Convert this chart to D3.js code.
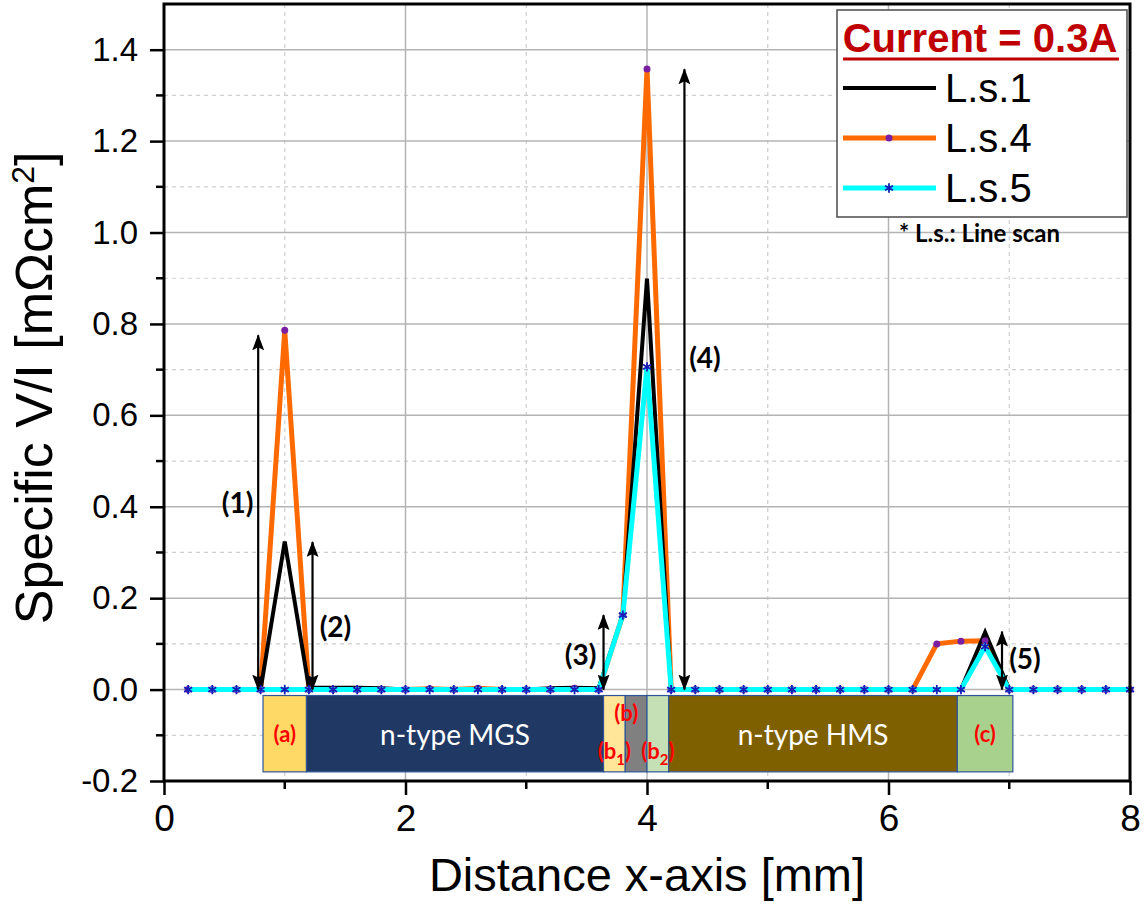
<!DOCTYPE html>
<html>
<head>
<meta charset="utf-8">
<script src="https://cdn.jsdelivr.net/npm/d3@7"></script>
<style>
  body { margin: 0; background: #fff; }
  svg { display: block; }
</style>
</head>
<body>
<div id="chart"></div>
<script>
// distance along the x-axis [mm]
var distancia = [0.2, 0.4, 0.6, 0.8, 1.0, 1.2, 1.4, 1.6, 1.8, 2.0,
                 2.2, 2.4, 2.6, 2.8, 3.0, 3.2, 3.4, 3.6, 3.8, 4.0,
                 4.2, 4.4, 4.6, 4.8, 5.0, 5.2, 5.4, 5.6, 5.8, 6.0,
                 6.2, 6.4, 6.6, 6.8, 7.0, 7.2, 7.4, 7.6, 7.8, 8.0];

// specific V/I [mOhm cm2], current = 0.3A
var ls1 = [0, 0, 0, 0, 0.324, 0.004, 0.004, 0.004, 0.003, 0,
           0, 0, 0, 0, 0, 0.003, 0.004, 0.003, 0.163, 0.899,
           0, 0, 0, 0, 0, 0, 0, 0, 0, 0,
           0, 0, 0, 0.125, 0, 0, 0, 0, 0, 0];
var ls4 = [0, 0, 0, 0, 0.786, 0, 0, 0, 0, 0,
           0.002, 0, 0.003, 0, 0, 0, 0.003, 0, 0.163, 1.358,
           0, 0, 0, 0, 0, 0, 0, 0, 0, 0,
           0, 0.100, 0.106, 0.107, 0, 0, 0, 0, 0, 0];
var ls5 = [0, 0, 0, 0, 0, 0, 0, 0, 0, 0,
           0, 0, 0, 0, 0, 0, 0, 0, 0.163, 0.706,
           0, 0, 0, 0, 0, 0, 0, 0, 0, 0,
           0, 0, 0, 0.094, 0, 0, 0, 0, 0, 0];

var ticks_x = [0, 2, 4, 6, 8];
var ticks_y = [-0.2, 0.0, 0.2, 0.4, 0.6, 0.8, 1.0, 1.2, 1.4];

// zones under the curves [mm]
var zona_ini = [0.82, 1.18, 3.64, 3.82, 4.0, 4.18, 6.57];
var zona_fin = [1.18, 3.64, 3.82, 4.0, 4.18, 6.57, 7.03];
var zona_nombre = ["(a)", "n-type MGS", "(b1)", "(b)", "(b2)", "n-type HMS", "(c)"];

// arrows (1)..(5): x [mm], top value
var flecha_x = [0.78, 1.23, 3.64, 4.31, 6.94];
var flecha_top = [0.775, 0.323, 0.163, 1.357, 0.127];
var flecha_txt = ["(1)", "(2)", "(3)", "(4)", "(5)"];
var flecha_lx = [0.61, 1.42, 3.45, 4.48, 7.13];
var flecha_ly = [0.41, 0.14, 0.077, 0.728, 0.07];

var series = [
  { nombre: "L.s.4", valores: ls4 },
  { nombre: "L.s.1", valores: ls1 },
  { nombre: "L.s.5", valores: ls5 }
];
var leyenda = ["L.s.1", "L.s.4", "L.s.5"];

var colores = { "L.s.1": "#000000", "L.s.4": "#FF6A00", "L.s.5": "#00FFFF" };
var colores_zona = ["#FFD966", "#203864", "#FFE699", "#808080", "#C5E0B4", "#7F6000", "#A9D18E"];

var W = 1145, H = 909;
var margin = { top: 4, right: 15, bottom: 128, left: 164 };
var width = W - margin.left - margin.right;
var height = H - margin.top - margin.bottom;

var svg = d3.select("#chart").append("svg")
  .attr("width", W)
  .attr("height", H);

// punta de flecha
var defs = svg.append("defs");
defs.append("marker")
  .attr("id", "punta")
  .attr("viewBox", "0 0 16 12")
  .attr("refX", 15).attr("refY", 6)
  .attr("markerWidth", 16).attr("markerHeight", 12)
  .attr("markerUnits", "userSpaceOnUse")
  .attr("orient", "auto-start-reverse")
  .append("path")
  .attr("d", "M0,0 L16,6 L0,12 L3,6 z")
  .attr("fill", "#000");

var g = svg.append("g")
  .attr("transform", "translate(" + margin.left + "," + margin.top + ")");

var x = d3.scaleLinear().domain([0, 8]).range([0, width]);
var y = d3.scaleLinear().domain([-0.2, 1.5]).range([height, 0]);

// rejilla
var menores_y = d3.range(-1, 15, 2).map(d => d / 10);
g.selectAll(".grid-min-y").data(menores_y).enter().append("line")
  .attr("x1", 0).attr("x2", width)
  .attr("y1", d => y(d)).attr("y2", d => y(d))
  .attr("stroke", "#cfcfcf").attr("stroke-width", 1.2)
  .attr("stroke-dasharray", "4,4");
g.selectAll(".grid-min-x").data([1, 3, 5, 7]).enter().append("line")
  .attr("x1", d => x(d)).attr("x2", d => x(d))
  .attr("y1", 0).attr("y2", height)
  .attr("stroke", "#cfcfcf").attr("stroke-width", 1.2)
  .attr("stroke-dasharray", "4,4");
g.selectAll(".grid-y").data(ticks_y.slice(1)).enter().append("line")
  .attr("x1", 0).attr("x2", width)
  .attr("y1", d => y(d)).attr("y2", d => y(d))
  .attr("stroke", "#b4b4b4").attr("stroke-width", 1.5);
g.selectAll(".grid-x").data([2, 4, 6]).enter().append("line")
  .attr("x1", d => x(d)).attr("x2", d => x(d))
  .attr("y1", 0).attr("y2", height)
  .attr("stroke", "#b4b4b4").attr("stroke-width", 1.5);

// zonas
var zonas = g.append("g").attr("class", "zonas");
zonas.selectAll("rect").data(zona_nombre).enter().append("rect")
  .attr("x", (d, i) => x(zona_ini[i]))
  .attr("y", y(-0.013))
  .attr("width", (d, i) => x(zona_fin[i]) - x(zona_ini[i]))
  .attr("height", y(-0.18) - y(-0.013))
  .attr("fill", (d, i) => colores_zona[i])
  .attr("stroke", "#2F5597").attr("stroke-width", 1.2);

zonas.selectAll("text").data(zona_nombre).enter().append("text")
  .each(function(d, i) {
    var t = d3.select(this);
    var cx = x((zona_ini[i] + zona_fin[i]) / 2);
    var cy = y(-0.0965);
    var blanco = d.indexOf("n-type") === 0;
    if (d === "(b)") { cx = x(zona_ini[i]) + 1; cy = y(-0.05); }
    if (d === "(b1)" || d === "(b2)") cy = y(-0.132);
    t.attr("x", cx).attr("y", cy)
      .attr("text-anchor", "middle")
      .attr("dominant-baseline", "central")
      .style("font-family", "Lato, 'Open Sans', sans-serif")
      .style("font-weight", blanco ? "normal" : "bold")
      .style("font-size", blanco ? "28px" : "22px")
      .attr("fill", blanco ? "#ffffff" : "#FF0000");
    if (d === "(b1)" || d === "(b2)") {
      t.append("tspan").text("(b");
      t.append("tspan").text(d.charAt(2)).attr("baseline-shift", "sub").style("font-size", "15px");
      t.append("tspan").text(")");
    } else {
      t.text(d);
    }
  });

// curvas
var linea = d3.line()
  .x((d, i) => x(distancia[i]))
  .y(d => y(d));

function dibuja_serie(s) {
  g.append("path")
    .datum(s.valores)
    .attr("fill", "none")
    .attr("stroke", colores[s.nombre])
    .attr("stroke-width", s.nombre === "L.s.1" ? 4 : 5)
    .attr("stroke-linejoin", "miter")
    .attr("d", linea);
}
dibuja_serie(series[0]);
dibuja_serie(series[1]);

g.selectAll(".pto4").data(ls4).enter().append("circle")
  .attr("class", "pto4")
  .attr("cx", (d, i) => x(distancia[i]))
  .attr("cy", d => y(d))
  .attr("r", 3.5)
  .attr("fill", "#7B1FA2");

dibuja_serie(series[2]);

var asterisco = d3.symbol().type(d3.symbolAsterisk).size(60);
g.selectAll(".pto5").data(ls5).enter().append("path")
  .attr("class", "pto5")
  .attr("transform", (d, i) => "translate(" + x(distancia[i]) + "," + y(d) + ")")
  .attr("d", asterisco)
  .attr("stroke", "#1A1AB8").attr("stroke-width", 1.8).attr("fill", "none");

// flechas
var flechas = g.append("g").attr("class", "flechas");
flechas.selectAll("line").data(flecha_txt).enter().append("line")
  .attr("x1", (d, i) => x(flecha_x[i])).attr("x2", (d, i) => x(flecha_x[i]))
  .attr("y1", y(0)).attr("y2", (d, i) => y(flecha_top[i]))
  .attr("stroke", "#000").attr("stroke-width", 2.2)
  .attr("marker-start", "url(#punta)")
  .attr("marker-end", "url(#punta)");
flechas.selectAll("text").data(flecha_txt).enter().append("text")
  .attr("x", (d, i) => x(flecha_lx[i]))
  .attr("y", (d, i) => y(flecha_ly[i]))
  .attr("text-anchor", "middle")
  .attr("dominant-baseline", "central")
  .style("font-family", "Lato, 'Open Sans', sans-serif")
  .style("font-weight", "bold")
  .style("font-size", "28px")
  .text(d => d);

// ejes
var xAxis = d3.axisBottom(x).tickValues(ticks_x).tickFormat(d3.format("d")).tickSize(14).tickPadding(10);
var xAxisG = g.append("g").attr("class", "x-axis")
  .attr("transform", "translate(0," + height + ")")
  .call(xAxis);
var yAxis = d3.axisLeft(y).tickValues(ticks_y)
  .tickFormat(d => d3.format(".1f")(d).replace("\u2212", "-"))
  .tickSize(14).tickPadding(12);
var yAxisG = g.append("g").attr("class", "y-axis").call(yAxis);

[xAxisG, yAxisG].forEach(function(a) {
  a.select(".domain").remove();
  a.selectAll(".tick line").attr("stroke", "#000").attr("stroke-width", 2.5);
  a.selectAll(".tick text")
    .style("font-family", "'Liberation Sans', Arial, sans-serif")
    .attr("fill", "#000");
});
xAxisG.selectAll(".tick text").style("font-size", "37px");
yAxisG.selectAll(".tick text").style("font-size", "33px");

// ticks menores
g.selectAll(".min-x").data([1, 3, 5, 7]).enter().append("line")
  .attr("x1", d => x(d)).attr("x2", d => x(d))
  .attr("y1", height).attr("y2", height + 8)
  .attr("stroke", "#000").attr("stroke-width", 2.5);
g.selectAll(".min-y").data(menores_y).enter().append("line")
  .attr("x1", -8).attr("x2", 0)
  .attr("y1", d => y(d)).attr("y2", d => y(d))
  .attr("stroke", "#000").attr("stroke-width", 2.5);

// marco
g.append("rect")
  .attr("x", 0).attr("y", 0)
  .attr("width", width).attr("height", height)
  .attr("fill", "none").attr("stroke", "#000").attr("stroke-width", 3);

// titulos
g.append("text")
  .attr("x", width / 2)
  .attr("y", height + 110)
  .attr("text-anchor", "middle")
  .style("font-family", "'Liberation Sans', Arial, sans-serif")
  .style("font-size", "47px")
  .text("Distance x-axis [mm]");

var ty = g.append("text")
  .attr("transform", "translate(" + (-112) + "," + (y(0.66)) + ") rotate(-90)")
  .attr("text-anchor", "middle")
  .style("font-family", "'Liberation Sans', Arial, sans-serif")
  .style("font-size", "52px");
ty.append("tspan").text("Specific V/I [m\u03A9cm");
ty.append("tspan").text("2").attr("baseline-shift", "super").style("font-size", "32px");
ty.append("tspan").text("]");

// leyenda
var lg = svg.append("g").attr("class", "legend");
lg.append("rect")
  .attr("x", 837).attr("y", 10)
  .attr("width", 290).attr("height", 207)
  .attr("fill", "#fff").attr("stroke", "#555").attr("stroke-width", 1.6);
lg.append("text")
  .attr("x", 980).attr("y", 52)
  .attr("text-anchor", "middle")
  .style("font-family", "'Liberation Sans', Arial, sans-serif")
  .style("font-weight", "bold")
  .style("font-size", "40px")
  .attr("fill", "#C00000")
  .text("Current = 0.3A");
lg.append("line")
  .attr("x1", 843).attr("x2", 1119)
  .attr("y1", 59).attr("y2", 59)
  .attr("stroke", "#C00000").attr("stroke-width", 3);

var filas = lg.selectAll(".fila").data(leyenda).enter().append("g")
  .attr("class", "fila")
  .attr("transform", (d, i) => "translate(0," + (88 + i * 50) + ")");
filas.append("line")
  .attr("x1", 843).attr("x2", 936)
  .attr("y1", 0).attr("y2", 0)
  .attr("stroke", d => colores[d])
  .attr("stroke-width", d => d === "L.s.1" ? 4 : 5);
filas.filter(d => d === "L.s.4").append("circle")
  .attr("cx", 889).attr("cy", 0).attr("r", 3.5).attr("fill", "#7B1FA2");
filas.filter(d => d === "L.s.5").append("path")
  .attr("transform", "translate(889,0)")
  .attr("d", asterisco)
  .attr("stroke", "#1A1AB8").attr("stroke-width", 1.8).attr("fill", "none");
filas.append("text")
  .attr("x", 945).attr("y", 14)
  .style("font-family", "'Liberation Sans', Arial, sans-serif")
  .style("font-size", "40px")
  .text(d => d);

svg.append("text")
  .attr("x", 899).attr("y", 242)
  .style("font-family", "Lato, 'Open Sans', sans-serif")
  .style("font-weight", "bold")
  .style("font-size", "24px")
  .text("* L.s.: Line scan");
</script>
</body>
</html>
